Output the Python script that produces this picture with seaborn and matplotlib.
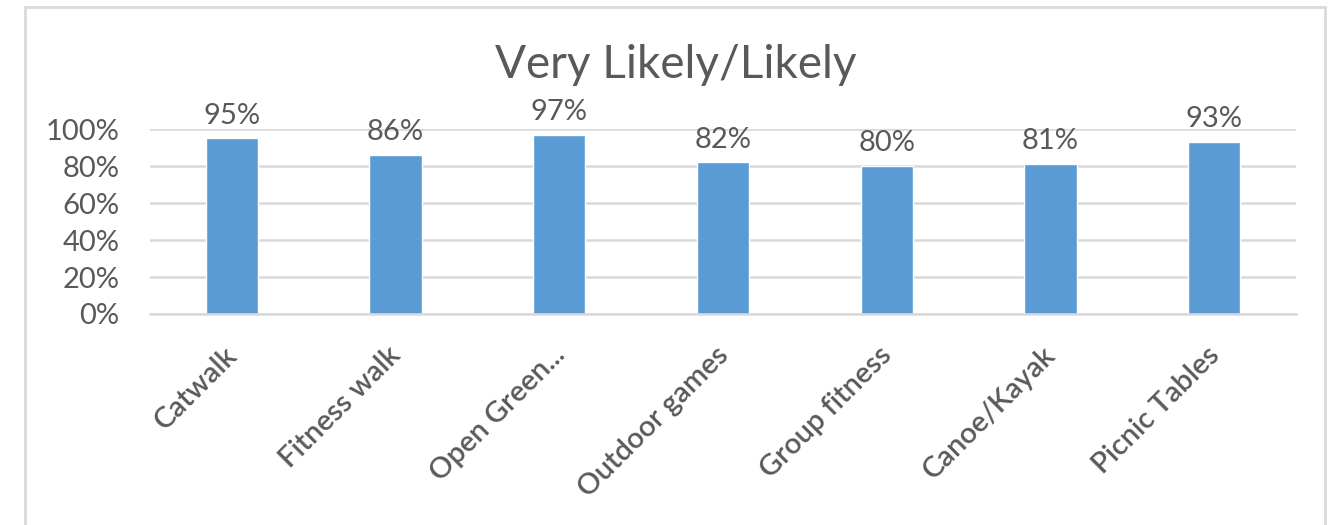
import matplotlib
matplotlib.use("Agg")
import matplotlib.pyplot as plt
import matplotlib.transforms as mtransforms
import seaborn as sns
import pandas as pd
from matplotlib.patches import Rectangle
from matplotlib.ticker import FuncFormatter

categories = ["Catwalk", "Fitness walk", "Open Green...", "Outdoor games",
              "Group fitness", "Canoe/Kayak", "Picnic Tables"]
values = [95, 86, 97, 82, 80, 81, 93]
yticks = [0, 20, 40, 60, 80, 100]

sns.set_theme(style="white")
plt.rcParams['font.family'] = ['Lato', 'DejaVu Sans']

TXT = "#595959"
GRID = "#D9D9D9"
BAR = "#5B9BD5"

fig = plt.figure(figsize=(13.29, 5.25), dpi=100)
ax = fig.add_axes([150/1329, 1-314/525, 1146/1329, 185/525])

df = pd.DataFrame({"cat": categories, "val": values})
sns.barplot(data=df, x="cat", y="val", color=BAR, width=0.32, saturation=1, ax=ax)

ax.set_ylim(0, 100)
ax.set_xlim(-0.5, len(categories) - 0.5)
ax.set_yticks(yticks)
ax.yaxis.set_major_formatter(FuncFormatter(lambda v, p: f"{int(v)}%"))
ax.grid(axis="y", color=GRID, linewidth=1.8)
ax.set_axisbelow(True)
for s in ["top", "right", "left"]:
    ax.spines[s].set_visible(False)
ax.spines["bottom"].set_color(GRID)
ax.spines["bottom"].set_linewidth(1.8)
ax.set_xlabel("")
ax.set_ylabel("")
ax.tick_params(axis="y", labelsize=21, colors=TXT, length=0, pad=22)
ax.tick_params(axis="x", labelsize=21, colors=TXT, length=0, pad=20)
shift = mtransforms.ScaledTranslation(-8/100, 0, fig.dpi_scale_trans)
for lab in ax.get_xticklabels():
    lab.set_rotation(45)
    lab.set_ha("right")
    lab.set_rotation_mode("anchor")
    lab.set_fontweight("semibold")
    lab.set_transform(lab.get_transform() + shift)

for i, v in enumerate(values):
    ax.annotate(f"{v}%", (i, v), xytext=(0, 7), textcoords="offset points",
                ha="center", va="bottom", fontsize=21, color=TXT, annotation_clip=False)

fig.text(676/1329, 1-65/525, "Very Likely/Likely", ha="center", va="center",
         fontsize=33, color=TXT)

fig.patches.append(Rectangle((25/1329, -0.05), 1300/1329, 1.05 - 7/525,
                             transform=fig.transFigure, fill=False,
                             edgecolor=GRID, linewidth=2))

fig.savefig("out.png", dpi=100)
